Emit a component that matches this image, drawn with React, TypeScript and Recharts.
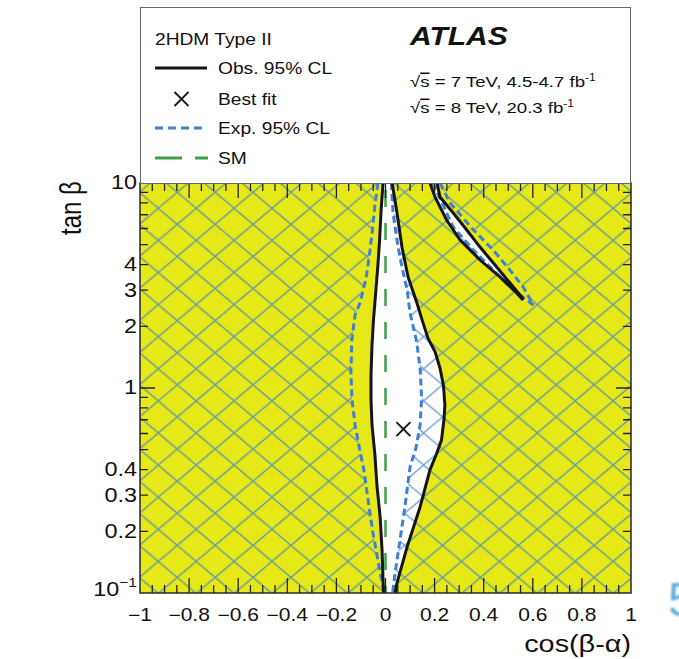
import React from 'react';
import { ScatterChart, Scatter, XAxis, YAxis, Legend, CartesianGrid } from 'recharts';

type Pt = [number, number];

// contours as [cos(β-α), tanβ]
const obsLeft: Pt[] = [
  [-0.01, 10], [-0.018, 7.38], [-0.024, 5.27], [-0.031, 3.98], [-0.039, 3.01],
  [-0.049, 2.15], [-0.055, 1.62], [-0.059, 1.16], [-0.059, 0.874], [-0.055, 0.66],
  [-0.043, 0.471], [-0.035, 0.336], [-0.022, 0.235], [-0.014, 0.162], [-0.01, 0.116],
  [-0.008, 0.1],
];
const obsRight: Pt[] = [
  [0.027, 10], [0.047, 7.14], [0.067, 4.87], [0.092, 3.48], [0.128, 2.6],
  [0.149, 2.15], [0.173, 1.75], [0.202, 1.5], [0.222, 1.25], [0.236, 1.03],
  [0.242, 0.826], [0.238, 0.698], [0.228, 0.557], [0.206, 0.471], [0.181, 0.398],
  [0.141, 0.263], [0.088, 0.168], [0.047, 0.112], [0.039, 0.1],
];
const expLeft: Pt[] = [
  [-0.031, 10], [-0.043, 7.81], [-0.051, 6.24], [-0.063, 4.71], [-0.079, 3.44],
  [-0.104, 2.6], [-0.124, 2.27], [-0.137, 1.71], [-0.141, 1.22], [-0.137, 0.894],
  [-0.124, 0.66], [-0.104, 0.493], [-0.088, 0.398], [-0.071, 0.284], [-0.051, 0.196],
  [-0.031, 0.145], [-0.01, 0.107], [-0.006, 0.1],
];
const expRight: Pt[] = [
  [0.024, 10], [0.031, 7.14], [0.051, 4.87], [0.067, 3.89], [0.088, 3.01],
  [0.1, 2.32], [0.126, 1.7], [0.141, 1.25], [0.147, 0.894], [0.141, 0.66],
  [0.124, 0.51], [0.1, 0.412], [0.079, 0.263], [0.059, 0.181], [0.039, 0.125],
  [0.029, 0.1],
];
// the narrow allowed strip at top right (closed loops)
const obsWing: Pt[] = [
  [0.181, 10], [0.202, 8.54], [0.249, 6.6], [0.304, 5.27], [0.385, 4.21],
  [0.466, 3.48], [0.534, 2.91], [0.56, 2.69], [0.555, 2.78], [0.507, 3.25],
  [0.453, 3.89], [0.385, 4.87], [0.331, 5.9], [0.276, 7.14], [0.222, 8.54],
  [0.21, 10],
];
const expWing: Pt[] = [
  [0.193, 10], [0.21, 9.04], [0.276, 6.1], [0.358, 4.71], [0.439, 3.76],
  [0.521, 3.01], [0.602, 2.54], [0.561, 3.11], [0.507, 3.76], [0.439, 4.71],
  [0.358, 5.9], [0.263, 7.99], [0.222, 10],
];
const bestFit: Pt[] = [[0.073, 0.63]];
const smLine: Pt[] = [[0, 10], [0, 0.1]];

// labelled ticks
const xTicks = [-1, -0.8, -0.6, -0.4, -0.2, 0, 0.2, 0.4, 0.6, 0.8, 1];
const xTickLabels = ['−1', '−0.8', '−0.6', '−0.4', '−0.2', '0', '0.2', '0.4', '0.6', '0.8', '1'];
const yTicks = [0.1, 0.2, 0.3, 0.4, 1, 2, 3, 4, 10];
const yTickLabels = ['10^-1', '0.2', '0.3', '0.4', '1', '2', '3', '4', '10'];
// every tick mark, labelled or not
const yAllTicks = [0.1, 0.2, 0.3, 0.4, 0.5, 0.6, 0.7, 0.8, 0.9, 1, 2, 3, 4, 5, 6, 7, 8, 9, 10];
const xAllTicks: number[] = [];
for (let i = 0; i <= 40; i++) xAllTicks.push(Math.round((-1 + i * 0.05) * 100) / 100);

const PLOT_W = 491;
const PLOT_H = 410;

const FONT = '"Liberation Sans", Arial, Helvetica, sans-serif';
const SX = 1.2; // source figure is stretched horizontally
const YELLOW = '#e6e817';
const BLUE = '#3f7fd6';
const GREEN = '#3f9f49';
const BLACK = '#151515';

const pts = (a: Pt[]) => a.map(([x, y]) => ({ x, y }));
const near = (a: number, b: number) => Math.abs(a - b) < 1e-6;

const bandWhite = pts([...obsLeft, ...[...obsRight].reverse()]);
const hatchLeft = pts([[-1, 0.1], [-1, 10], ...expLeft]);
const hatchRight = pts([...[...expRight].reverse(), ...expWing, [1, 10], [1, 0.1]]);

const noDot = () => null;

const Cross = ({ cx, cy, r, w }: { cx: number; cy: number; r: number; w: number }) => (
  <path d={`M${cx - r},${cy - r}L${cx + r},${cy + r}M${cx + r},${cy - r}L${cx - r},${cy + r}`} stroke="#1a1a1a" strokeWidth={w} fill="none" />
);

const Txt = ({ x, y, size, anchor = 'start', children, ...rest }: any) => (
  <text
    transform={`translate(${x},${y}) scale(${SX},1)`}
    fontSize={size}
    textAnchor={anchor}
    fontFamily={FONT}
    fill="#111"
    {...rest}
  >
    {children}
  </text>
);

// x tick: label + inward marks at bottom and top; the -1 tick also draws the frame
const XTick = (p: any) => {
  const v = p.payload.value;
  const i = xTicks.findIndex((t) => near(t, v));
  const len = i >= 0 ? 15 : 8;
  const edge = near(Math.abs(v), 1);
  return (
    <g>
      {!edge && (
        <path d={`M${p.x},${p.y}v${-len}M${p.x},${p.y - PLOT_H}v${len}`} stroke="#222" strokeWidth={1.3} fill="none" />
      )}
      {near(v, -1) && (
        <rect x={p.x} y={p.y - PLOT_H} width={PLOT_W} height={PLOT_H} fill="none" stroke="#333" strokeWidth={1.6} />
      )}
      {i >= 0 && (
        <Txt x={p.x} y={p.y + 28} size={17.5} anchor="middle">
          {xTickLabels[i]}
        </Txt>
      )}
    </g>
  );
};

const YTick = (p: any) => {
  const v = p.payload.value;
  const i = yTicks.findIndex((t) => near(t, v));
  const lab = i >= 0 ? yTickLabels[i] : '';
  const len = near(v, 1) ? 15 : 8;
  const edge = near(v, 0.1) || near(v, 10);
  return (
    <g>
      {!edge && (
        <path d={`M${p.x},${p.y}h${len}M${p.x + PLOT_W},${p.y}h${-len}`} stroke="#222" strokeWidth={1.3} fill="none" />
      )}
      {lab === '10^-1' ? (
        <Txt x={p.x - 3} y={p.y - 3} size={19.5} anchor="end" dominantBaseline="central">
          10<tspan fontSize={13} dy={-8}>−1</tspan>
        </Txt>
      ) : lab ? (
        <Txt x={p.x - 3} y={p.y} size={19.5} anchor="end" dominantBaseline="central">
          {lab}
        </Txt>
      ) : null}
    </g>
  );
};

const XTitle = (p: any) => {
  const vb = p.viewBox || { x: 140, y: 593, width: 491 };
  return (
    <Txt x={vb.x + vb.width} y={vb.y + 59} size={24} anchor="end">
      cos(β-α)
    </Txt>
  );
};

const YTitle = (p: any) => {
  const vb = p.viewBox || { x: 80, y: 183 };
  return (
    <text
      transform={`translate(${vb.x - 9},${vb.y + 25}) scale(${SX},1) rotate(-90)`}
      fontSize={24}
      textAnchor="middle"
      dominantBaseline="central"
      fontFamily={FONT}
      fill="#111"
    >
      tan β
    </text>
  );
};

const LegendBox = () => (
  <svg width={491} height={177} style={{ display: 'block' }}>
    <rect x={0.5} y={0.5} width={490} height={176} fill="#fff" stroke="#666" />
    <Txt x={15} y={38} size={16}>2HDM Type II</Txt>
    <line x1={15} x2={67} y1={61} y2={61} stroke={BLACK} strokeWidth={3} />
    <Txt x={78} y={67} size={16}>Obs. 95% CL</Txt>
    <Cross cx={41.5} cy={92} r={7} w={1.8} />
    <Txt x={78} y={98} size={16}>Best fit</Txt>
    <line x1={15} x2={67} y1={121} y2={121} stroke={BLUE} strokeWidth={3} strokeDasharray="8 5" />
    <Txt x={78} y={127} size={16}>Exp. 95% CL</Txt>
    <line x1={15} x2={68} y1={151} y2={151} stroke={GREEN} strokeWidth={3} strokeDasharray="27 13" />
    <Txt x={78} y={157} size={16}>SM</Txt>
    <Txt x={270} y={38} size={25} fontWeight="bold" fontStyle="italic">ATLAS</Txt>
    <Txt x={270} y={80} size={15.5}>
      √<tspan textDecoration="overline">s</tspan> = 7 TeV, 4.5-4.7 fb<tspan fontSize={10} dy={-6}>-1</tspan>
    </Txt>
    <Txt x={270} y={106} size={15.5}>
      √<tspan textDecoration="overline">s</tspan> = 8 TeV, 20.3 fb<tspan fontSize={10} dy={-6}>-1</tspan>
    </Txt>
  </svg>
);

const solid = (color: string, width: number) => ({ stroke: color, strokeWidth: width, fill: 'none' });
const dashed = (color: string, width: number, dash: string, offset = 0) => ({
  stroke: color,
  strokeWidth: width,
  strokeDasharray: dash,
  strokeDashoffset: offset,
  fill: 'none',
});
const filled = (fill: string) => ({ fill, stroke: 'none' });

const App = () => {
  return (
    <div
      style={{
        position: 'absolute',
        left: 0,
        top: 0,
        width: 679,
        height: 659,
        overflow: 'hidden',
        background: '#fff',
      }}
    >
      <ScatterChart width={679} height={659} margin={{ top: 183, right: 48, bottom: 26, left: 80 }}>
        <defs>
          <pattern id="hatch" patternUnits="userSpaceOnUse" x={6.7} y={15.7} width={37.9} height={32.1}>
            <path d="M0,0L37.9,32.1M0,32.1L37.9,0" stroke="#3c7fd0" strokeOpacity={0.75} strokeWidth={1.3} />
          </pattern>
        </defs>
        {/* excluded everywhere by default: plot background sits under the axes */}
        <CartesianGrid horizontal={false} vertical={false} fill={YELLOW} fillOpacity={1} stroke="none" />
        <Legend
          layout="horizontal"
          verticalAlign="middle"
          align="center"
          content={() => <LegendBox />}
          wrapperStyle={{ left: 140, top: 7, width: 491, height: 177 }}
        />

        {/* observed allowed regions */}
        <Scatter data={bandWhite} shape={noDot} line={filled('#fff')} isAnimationActive={false} />
        <Scatter data={pts(obsWing)} shape={noDot} line={filled('#fff')} isAnimationActive={false} />
        {/* expected exclusion hatch */}
        <Scatter data={hatchLeft} shape={noDot} line={filled('url(#hatch)')} isAnimationActive={false} />
        <Scatter data={hatchRight} shape={noDot} line={filled('url(#hatch)')} isAnimationActive={false} />

        <Scatter data={pts(smLine)} shape={noDot} line={dashed(GREEN, 2.5, '17 16', 26)} isAnimationActive={false} />

        <Scatter data={pts(expLeft)} shape={noDot} line={dashed(BLUE, 3, '7 4')} isAnimationActive={false} />
        <Scatter data={pts(expRight)} shape={noDot} line={dashed(BLUE, 3, '7 4')} isAnimationActive={false} />
        <Scatter data={pts(expWing)} shape={noDot} line={dashed(BLUE, 3, '7 4')} isAnimationActive={false} />

        <Scatter data={pts(obsLeft)} shape={noDot} line={solid(BLACK, 3)} isAnimationActive={false} />
        <Scatter data={pts(obsRight)} shape={noDot} line={solid(BLACK, 3)} isAnimationActive={false} />
        <Scatter data={pts(obsWing)} shape={noDot} line={solid(BLACK, 3)} isAnimationActive={false} />

        <Scatter data={pts(bestFit)} shape={(p: any) => <Cross cx={p.cx} cy={p.cy} r={7} w={2} />} isAnimationActive={false} />

        {/* axes after the series; their inward marks and the frame come from the tick renderers */}
        <XAxis
          type="number"
          dataKey="x"
          domain={[-1, 1]}
          ticks={xAllTicks}
          interval={0}
          tick={XTick}
          tickLine={false}
          axisLine={false}
          tickSize={0}
          tickMargin={0}
          height={40}
          label={<XTitle />}
        />
        <YAxis
          type="number"
          dataKey="y"
          scale="log"
          domain={[0.1, 10]}
          ticks={yAllTicks}
          interval={0}
          tick={YTick}
          tickLine={false}
          axisLine={false}
          tickSize={0}
          tickMargin={0}
          width={60}
          label={<YTitle />}
        />
      </ScatterChart>
      <div
        style={{
          position: 'absolute',
          left: 668,
          top: 570,
          fontFamily: FONT,
          fontSize: 48,
          lineHeight: '60px',
          color: '#5aabdc',
          filter: 'blur(0.8px)',
        }}
      >
        5
      </div>
    </div>
  );
};

export default App;
